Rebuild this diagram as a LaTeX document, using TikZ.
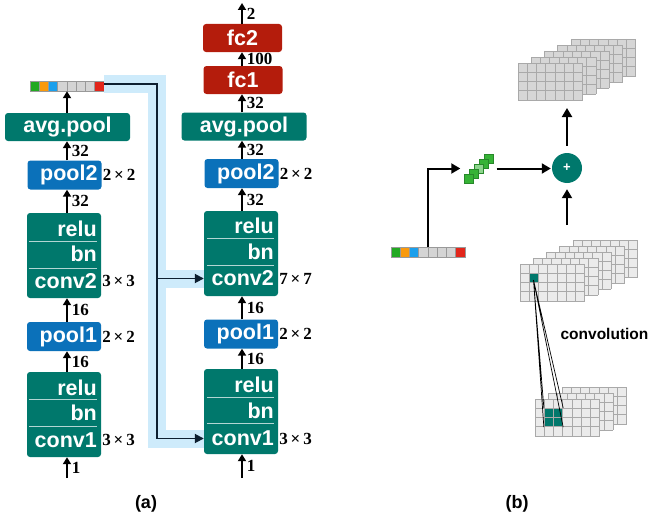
\documentclass[tikz,border=0pt]{standalone}
\usepackage{fontspec}
\setmainfont{Liberation Serif}
\setsansfont{Liberation Sans}
\usetikzlibrary{arrows.meta}

\definecolor{blockteal}{HTML}{00786C}
\definecolor{poolblue}{HTML}{0B71BA}
\definecolor{fcred}{HTML}{B41C0C}
\definecolor{skipblue}{HTML}{CEEBFB}
\definecolor{skipdark}{HTML}{0D1F30}
\definecolor{vgreen}{HTML}{22A922}
\definecolor{vorange}{HTML}{FA9A0C}
\definecolor{vblue}{HTML}{1A9FEC}
\definecolor{vgray}{HTML}{D4D4D4}
\definecolor{vred}{HTML}{E2261B}
\definecolor{kgreen}{HTML}{36B336}
\definecolor{klight}{HTML}{8ED58E}
\definecolor{kedge}{HTML}{27882A}
\definecolor{mapdark}{HTML}{D6D6D6}
\definecolor{maplight}{HTML}{EBEBEB}
\definecolor{mapline}{HTML}{A9A9A9}

\begin{document}
\begin{tikzpicture}[x=1pt, y=-1pt,
layer/.style={rounded corners=3pt, inner sep=0pt, text=white, font=\sffamily\bfseries\fontsize{21.5}{22}\selectfont},
convblk/.style={layer, fill=blockteal, minimum width=74pt, minimum height=85pt},
poolblk/.style={layer, fill=poolblue, minimum height=29pt, text width=66pt, inner xsep=4pt, align=right},
avgblk/.style={layer, fill=blockteal, minimum width=125pt, minimum height=28pt},
fcblk/.style={layer, fill=fcred, minimum width=79pt, minimum height=28pt},
cname/.style={anchor=east, inner sep=0pt, text=white, font=\sffamily\bfseries\fontsize{21.5}{22}\selectfont},
divider/.style={white!70!blockteal, line width=1pt},
num/.style={inner sep=1pt, font=\bfseries\fontsize{17}{17}\selectfont},
flow/.style={-{Triangle[length=7pt,width=8pt]}, line width=1.8pt},
skip/.style={-{Triangle[length=9pt,width=9pt]}, line width=1.8pt, skipdark},
skipband/.style={line width=18pt, skipblue},
barr/.style={-{Triangle[length=9pt,width=10pt]}, line width=2pt},
mapcell/.style={draw=mapline, line width=0.8pt},
vcell/.style={draw=gray!80, line width=0.6pt}]
\useasboundingbox (0,0) rectangle (652,519);

% (a) left network
\foreach \c [count=\i from 0] in {vgreen,vorange,vblue,vgray,vgray,vgray,vgray,vred}
  \filldraw[vcell, fill=\c] (30+9.25*\i,81) rectangle ++(9.25,10);
\node[inner sep=0pt, minimum width=74pt, minimum height=10pt] (lbar) at (67,86) {};
\node[avgblk] (lavg) at (67.5,127) {avg.pool};
\node[poolblk] (lp2) at (64.5,175) {pool2};
\node[convblk] (lc2) at (64,255.5) {};
\node[cname] (lc2a) at (97,229) {relu};
\node[cname] (lc2b) at (97,254) {bn};
\node[cname] (lc2c) at (97,281) {conv2};
\draw[divider] (29,241) -- (97,241) (29,268) -- (97,268);
\node[poolblk] (lp1) at (64,336.5) {pool1};
\node[convblk] (lc1) at (64,414.5) {};
\node[cname] (lc1a) at (97,387.5) {relu};
\node[cname] (lc1b) at (97,412.5) {bn};
\node[cname] (lc1c) at (97,440) {conv1};
\draw[divider] (29,399) -- (97,399) (29,426) -- (97,426);
\coordinate (lin) at (67,478);

\draw[flow] (lavg.north -| lbar) -- (lbar.south);
\draw[flow] (lp2.north -| lbar) -- (lavg.south -| lbar) node[num, midway, right=3pt] {32};
\draw[flow] (lc2.north -| lbar) -- (lp2.south -| lbar) node[num, midway, right=3pt] {32};
\draw[flow] (lp1.north -| lbar) -- (lc2.south -| lbar) node[num, midway, right=3pt] {16};
\draw[flow] (lc1.north -| lbar) -- (lp1.south -| lbar) node[num, midway, right=3pt] {16};
\draw[flow] (lin) -- (lc1.south -| lbar) node[num, midway, right=3pt] {1};

\node[num, anchor=west] (lp2s) at (lp2.east) {2\,×\,2};
\node[num, anchor=west] (lc2s) at (lc2.east |- lc2c) {3\,×\,3};
\node[num, anchor=west] (lp1s) at (lp1.east) {2\,×\,2};
\node[num, anchor=west] (lc1s) at (lc1.east |- lc1c) {3\,×\,3};

% (a) right network
\coordinate (rtop) at (242,3);
\node[fcblk] (rfc2) at (242.5,38) {fc2};
\node[fcblk] (rfc1) at (243,80) {fc1};
\node[avgblk] (ravg) at (244,126.5) {avg.pool};
\node[poolblk] (rp2) at (241.5,173.5) {pool2};
\node[convblk] (rc2) at (241,253.5) {};
\node[cname] (rc2a) at (274,225.5) {relu};
\node[cname] (rc2b) at (274,252) {bn};
\node[cname] (rc2c) at (274,278.5) {conv2};
\draw[divider] (207,238) -- (274,238) (207,265) -- (274,265);
\node[poolblk] (rp1) at (241,334) {pool1};
\node[convblk] (rc1) at (241,411.5) {};
\node[cname] (rc1a) at (274,385) {relu};
\node[cname] (rc1b) at (274,411) {bn};
\node[cname] (rc1c) at (274,438.5) {conv1};
\draw[divider] (207,397) -- (274,397) (207,423) -- (274,423);
\coordinate (rin) at (242,478);

\draw[flow] (rfc2.north -| rtop) -- (rtop) node[num, midway, right=3pt] {2};
\draw[flow] (rfc1.north -| rtop) -- (rfc2.south -| rtop) node[num, midway, right=3pt] {100};
\draw[flow] (ravg.north -| rtop) -- (rfc1.south -| rtop) node[num, midway, right=3pt] {32};
\draw[flow] (rp2.north -| rtop) -- (ravg.south -| rtop) node[num, midway, right=3pt] {32};
\draw[flow] (rc2.north -| rtop) -- (rp2.south -| rtop) node[num, midway, right=3pt] {32};
\draw[flow] (rp1.north -| rtop) -- (rc2.south -| rtop) node[num, midway, right=3pt] {16};
\draw[flow] (rc1.north -| rtop) -- (rp1.south -| rtop) node[num, midway, right=3pt] {16};
\draw[flow] (rin) -- (rc1.south -| rtop) node[num, midway, right=3pt] {1};

\node[num, anchor=west] (rp2s) at (rp2.east) {2\,×\,2};
\node[num, anchor=west] (rc2s) at (rc2.east |- rc2c) {7\,×\,7};
\node[num, anchor=west] (rp1s) at (rp1.east) {2\,×\,2};
\node[num, anchor=west] (rc1s) at (rc1.east |- rc1c) {3\,×\,3};

% skip connection
\coordinate (skc) at (157,84);
\draw[skipband] (lbar.east |- skc) -- (skc) |- (rc1.west |- rc1c);
\draw[skipband] (skc |- rc2c) -- (rc2.west |- rc2c);
\draw[skip] (lbar.east |- skc) -- (skc) |- (rc1.west |- rc1c);
\draw[skip] (skc |- rc2c) -- (rc2.west |- rc2c);

% (b) feature maps
\foreach \k in {0,...,4} {
  \pgfmathsetmacro\ox{571-13.25*\k}
  \pgfmathsetmacro\oy{39+6*\k}
  \fill[mapdark] (\ox,\oy) rectangle ++(64.75,37);
  \foreach \i in {0,...,7} \draw[mapcell] (\ox+9.25*\i,\oy) -- ++(0,37);
  \foreach \j in {0,...,4} \draw[mapcell] (\ox,\oy+9.25*\j) -- ++(64.75,0);
}
\foreach \k in {0,...,4} {
  \pgfmathsetmacro\ox{573-13.25*\k}
  \pgfmathsetmacro\oy{240+6*\k}
  \fill[maplight] (\ox,\oy) rectangle ++(64.75,37);
  \foreach \i in {0,...,7} \draw[mapcell] (\ox+9.25*\i,\oy) -- ++(0,37);
  \foreach \j in {0,...,4} \draw[mapcell] (\ox,\oy+9.25*\j) -- ++(64.75,0);
}
\foreach \k in {0,...,2} {
  \pgfmathsetmacro\ox{562-13.5*\k}
  \pgfmathsetmacro\oy{387+6*\k}
  \fill[maplight] (\ox,\oy) rectangle ++(64.75,37);
  \foreach \i in {0,...,7} \draw[mapcell] (\ox+9.25*\i,\oy) -- ++(0,37);
  \foreach \j in {0,...,4} \draw[mapcell] (\ox,\oy+9.25*\j) -- ++(64.75,0);
}
\node[mapcell, fill=blockteal, inner sep=0pt, minimum size=9.25pt] (pix) at (533.875,277.875) {};
\node[mapcell, fill=blockteal, inner sep=0pt, minimum size=18.5pt] (patch) at (553.5,417.5) {};
\draw[mapcell] (patch.north) -- (patch.south) (patch.west) -- (patch.east);
\coordinate (pixpt) at (533.5,280);
\draw[line width=0.7pt] (pixpt) -- (patch.north west) (pixpt) -- (patch.south west)
  (pixpt) -- (patch.north east) (pixpt) -- (patch.south east);
\node[font=\sffamily\bfseries\fontsize{15.5}{16}\selectfont] (convlbl) at (604.5,334) {convolution};

% (b) vector, kernel and sum
\foreach \c [count=\i from 0] in {vgreen,vorange,vblue,vgray,vgray,vgray,vgray,vred}
  \filldraw[vcell, fill=\c] (391+9.25*\i,247) rectangle ++(9.25,10);
\node[inner sep=0pt, minimum width=74pt, minimum height=10pt] (bbar) at (428,252) {};
\foreach \s/\c in {4/kgreen, 3/kgreen, 2/klight, 1/kgreen, 0/kgreen}
  \filldraw[fill=\c, draw=kedge, line width=0.6pt] (464+5*\s,174-5*\s) rectangle ++(9.5,9.5);
\node[inner sep=0pt, minimum size=36pt] (kern) at (478.5,168.5) {};
\node[circle, fill=blockteal, minimum size=30pt, inner sep=0pt, text=white,
  font=\sffamily\bfseries\fontsize{13}{13}\selectfont] (sum) at (567,168) {+};
\coordinate (omap) at (567,100);
\coordinate (imap) at (567,225);
\draw[barr] (bbar.north) |- (kern.west);
\draw[barr, shorten >=1pt] (kern.east) -- (kern.east -| sum.west);
\draw[barr, shorten <=7pt, shorten >=8pt] (sum.north) -- (omap);
\draw[barr, shorten >=6pt] (imap) -- (sum.south);

% captions
\node[font=\sffamily\bfseries\fontsize{18}{18}\selectfont] (capa) at (146,504) {(a)};
\node[font=\sffamily\bfseries\fontsize{18}{18}\selectfont] (capb) at (517,504) {(b)};
\end{tikzpicture}
\end{document}
